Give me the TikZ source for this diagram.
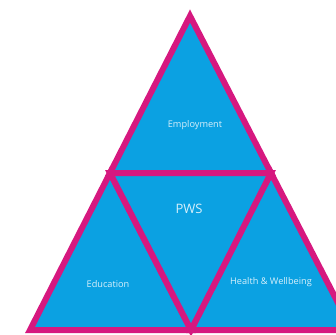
\documentclass[tikz,border=0pt]{standalone}
\usepackage{fontspec}
\setmainfont{Open Sans}
\usetikzlibrary{calc,positioning}

\definecolor{pwsblue}{HTML}{0BA1E2}
\definecolor{pwspink}{HTML}{D6187F}
\definecolor{pwstext}{HTML}{D8F0FB}

\begin{document}
\begin{tikzpicture}[x=1pt,y=-1pt]
	\tikzstyle{every node}+=[inner sep=0pt, text=pwstext]
	\tikzstyle{part}=[fill=pwsblue, draw=pwspink, line width=6pt, line join=miter]
	\tikzstyle{label}=[font=\fontsize{9.2}{11}\selectfont]
	\useasboundingbox (0,0) rectangle (336,334);
	\clip (0,0) rectangle (336,334);
	% corners and midpoints
	\coordinate (top) at (190,16);
	\coordinate (bl) at (30,330);
	\coordinate (br) at (352,330);
	\coordinate (ml) at ($(top)!0.5!(bl)$);
	\coordinate (mr) at ($(top)!0.5!(br)$);
	\coordinate (mb) at ($(bl)!0.5!(br)$);
	% the four triangles
	\draw [part] (top) -- (mr) -- (ml) -- cycle;
	\draw [part] (ml) -- (mb) -- (bl) -- cycle;
	\draw [part] (mr) -- (br) -- (mb) -- cycle;
	\draw [part] (ml) -- (mr) -- (mb) -- cycle;
	% labels
	\node [label] (employment) at (195,125) {Employment};
	\node [font=\fontsize{13}{15}\selectfont] (pws) at (189,209) {PWS};
	\node [label] (education) at (108,284) {Education};
	\node [label] (health) at (271,282) {Health \& Wellbeing};
\end{tikzpicture}
\end{document}
